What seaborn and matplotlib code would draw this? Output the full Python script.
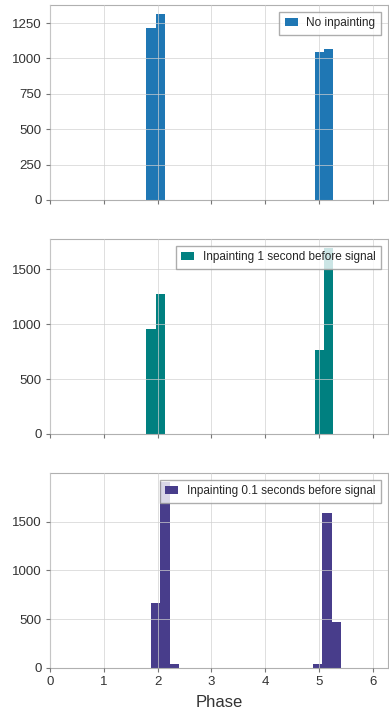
import numpy as np
import pandas as pd
import matplotlib
matplotlib.use("Agg")
import matplotlib.pyplot as plt
import seaborn as sns

# bin layout of each histogram (20 equal bins over the data range)
edges_a = (1.79, 5.27)   # panels 1 and 2
edges_b = (1.87, 5.42)   # panel 3
n_bins = 20

# counts per bin (zeros where nothing was drawn)
counts_none = [1217, 1312, 0, 0, 0, 0, 0, 0, 0, 0, 0, 0, 0, 0, 0, 0, 0, 0, 1047, 1068]
counts_1s = [952, 1272, 0, 0, 0, 0, 0, 0, 0, 0, 0, 0, 0, 0, 0, 0, 0, 0, 763, 1689]
counts_01s = [668, 1902, 44, 0, 0, 0, 0, 0, 0, 0, 0, 0, 0, 0, 0, 0, 0, 40, 1591, 466]

labels = ["No inpainting", "Inpainting 1 second before signal", "Inpainting 0.1 seconds before signal"]
colors = ["#1f77b4", "#008080", "#483d8b"]
x_ticks = [0, 1, 2, 3, 4, 5, 6]

sns.set_style("whitegrid", {"xtick.bottom": True, "ytick.left": True,
                            "axes.edgecolor": "#b0b0b0", "grid.color": "#e0e0e0"})
plt.rcParams["font.family"] = ["Liberation Sans", "DejaVu Sans"]
plt.rcParams["xtick.color"] = "#777777"
plt.rcParams["ytick.color"] = "#777777"
plt.rcParams["xtick.labelcolor"] = "#333333"
plt.rcParams["ytick.labelcolor"] = "#333333"

fig, axes = plt.subplots(3, 1, figsize=(3.89, 7.12), dpi=100, sharex=True)
fig.subplots_adjust(left=0.1285, right=0.997, top=0.993, bottom=0.0618, hspace=0.2)

panels = [(counts_none, edges_a), (counts_1s, edges_a), (counts_01s, edges_b)]
for ax, (counts, rng), label, color in zip(axes, panels, labels, colors):
    edges = np.linspace(rng[0], rng[1], n_bins + 1)
    df = pd.DataFrame({"phase": (edges[:-1] + edges[1:]) / 2, "count": counts})
    sns.histplot(data=df, x="phase", weights="count", bins=edges.tolist(), color=color,
                 alpha=1, linewidth=0, label=label, ax=ax)
    ax.set_axisbelow(False)
    ax.grid(True, color="#d0d0d0", linewidth=0.7, alpha=0.7)
    ax.set_ylabel("")
    ax.set_xlabel("")
    ax.set_xlim(0, 2 * np.pi)
    ax.set_xticks(x_ticks)
    ax.tick_params(labelsize=9.5, length=3, width=0.8, pad=3)
    leg = ax.legend(loc="upper right", fontsize=8.5, fancybox=False, framealpha=0.8,
                    edgecolor="#999999", handlelength=1.1, handleheight=0.6,
                    handletextpad=0.75, borderaxespad=0.6, borderpad=0.45)
    leg.set_zorder(5)

axes[0].set_yticks([0, 250, 500, 750, 1000, 1250])
axes[1].set_yticks([0, 500, 1000, 1500])
axes[2].set_yticks([0, 500, 1000, 1500])
axes[2].set_xlabel("Phase", fontsize=12, color="#333333", labelpad=5)

fig.savefig("out.png", dpi=100)
